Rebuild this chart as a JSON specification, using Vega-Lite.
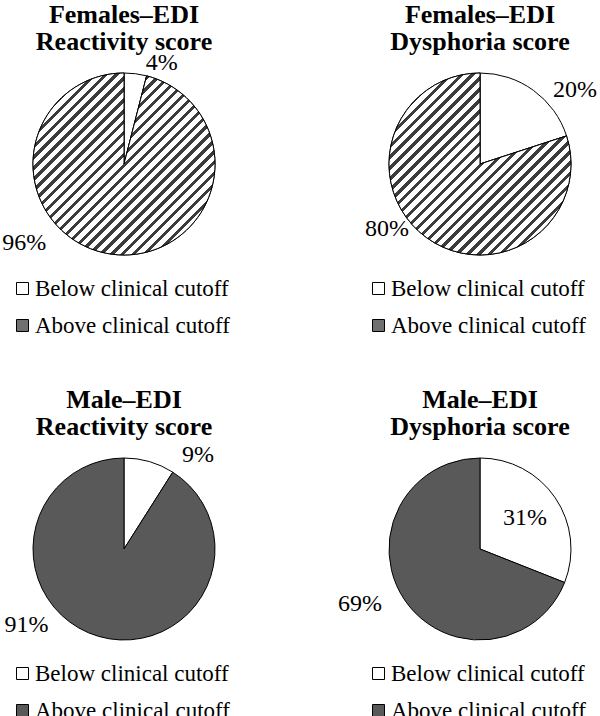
{
  "$schema": "https://vega.github.io/schema/vega-lite/v6.json",
  "background": "white",
  "padding": {"left": 2, "top": 2, "right": 0, "bottom": 0},
  "data": {"values": [
    {"panel": "FR", "category": "Below clinical cutoff", "share": 0.04},
    {"panel": "FR", "category": "Above clinical cutoff", "share": 0.96},
    {"panel": "FD", "category": "Below clinical cutoff", "share": 0.20},
    {"panel": "FD", "category": "Above clinical cutoff", "share": 0.80},
    {"panel": "MR", "category": "Below clinical cutoff", "share": 0.09},
    {"panel": "MR", "category": "Above clinical cutoff", "share": 0.91},
    {"panel": "MD", "category": "Below clinical cutoff", "share": 0.31},
    {"panel": "MD", "category": "Above clinical cutoff", "share": 0.69}
  ]},
  "columns": 2,
  "bounds": "flush",
  "spacing": {"row": 155, "column": 130},
  "concat": [
    {
      "width": 226, "height": 230,
      "title": {"text": ["Females–EDI", "Reactivity score"]},
      "transform": [{"filter": "datum.panel === 'FR'"}, {"stack": "share", "groupby": [], "sort": [{"field": "category", "order": "descending"}], "as": ["a0", "a1"]}],
      "layer": [
        {"mark": {"type": "arc", "outerRadius": 91, "stroke": "black", "strokeWidth": 1},
         "encoding": {
           "theta": {"field": "a0", "type": "quantitative", "scale": {"domain": [0, 1]}}, "theta2": {"field": "a1"},
           "fill": {"field": "category", "type": "nominal", "sort": ["Below clinical cutoff", "Above clinical cutoff"],
           "scale": {"domain": ["Below clinical cutoff", "Above clinical cutoff"], "range": ["#ffffff", "#707070"]},
           "legend": {"encode": {"symbols": {"update": {"fill": {"signal": "datum.value === 'Above clinical cutoff' ? {gradient: 'linear', x1: 0, y1: 0, x2: 1, y2: 1, stops: [{offset: 0, color: '#fff'}, {offset: 0.5, color: '#fff'}, {offset: 0.5, color: '#444'}, {offset: 1, color: '#444'}]} : '#fff'"}, "stroke": {"value": "black"}, "strokeWidth": {"value": 1}}}}}}}},
        {"transform": [{"filter": "datum.category === 'Above clinical cutoff'"}],
         "mark": {"type": "arc", "outerRadius": 91, "stroke": "black", "strokeWidth": 1,
           "fill": {"gradient": "linear", "x1": 0, "y1": 0, "x2": 1, "y2": 1, "stops": [
{"offset":0,"color":"#fff"},{"offset":0.018,"color":"#fff"},{"offset":0.018,"color":"#3c3c3c"},{"offset":0.03,"color":"#3c3c3c"},
{"offset":0.03,"color":"#fff"},{"offset":0.048,"color":"#fff"},{"offset":0.048,"color":"#3c3c3c"},{"offset":0.06,"color":"#3c3c3c"},
{"offset":0.06,"color":"#fff"},{"offset":0.078,"color":"#fff"},{"offset":0.078,"color":"#3c3c3c"},{"offset":0.09,"color":"#3c3c3c"},
{"offset":0.09,"color":"#fff"},{"offset":0.108,"color":"#fff"},{"offset":0.108,"color":"#3c3c3c"},{"offset":0.12,"color":"#3c3c3c"},
{"offset":0.12,"color":"#fff"},{"offset":0.138,"color":"#fff"},{"offset":0.138,"color":"#3c3c3c"},{"offset":0.15,"color":"#3c3c3c"},
{"offset":0.15,"color":"#fff"},{"offset":0.168,"color":"#fff"},{"offset":0.168,"color":"#3c3c3c"},{"offset":0.18,"color":"#3c3c3c"},
{"offset":0.18,"color":"#fff"},{"offset":0.198,"color":"#fff"},{"offset":0.198,"color":"#3c3c3c"},{"offset":0.21,"color":"#3c3c3c"},
{"offset":0.21,"color":"#fff"},{"offset":0.228,"color":"#fff"},{"offset":0.228,"color":"#3c3c3c"},{"offset":0.24,"color":"#3c3c3c"},
{"offset":0.24,"color":"#fff"},{"offset":0.258,"color":"#fff"},{"offset":0.258,"color":"#3c3c3c"},{"offset":0.27,"color":"#3c3c3c"},
{"offset":0.27,"color":"#fff"},{"offset":0.288,"color":"#fff"},{"offset":0.288,"color":"#3c3c3c"},{"offset":0.3,"color":"#3c3c3c"},
{"offset":0.3,"color":"#fff"},{"offset":0.318,"color":"#fff"},{"offset":0.318,"color":"#3c3c3c"},{"offset":0.33,"color":"#3c3c3c"},
{"offset":0.33,"color":"#fff"},{"offset":0.348,"color":"#fff"},{"offset":0.348,"color":"#3c3c3c"},{"offset":0.36,"color":"#3c3c3c"},
{"offset":0.36,"color":"#fff"},{"offset":0.378,"color":"#fff"},{"offset":0.378,"color":"#3c3c3c"},{"offset":0.39,"color":"#3c3c3c"},
{"offset":0.39,"color":"#fff"},{"offset":0.408,"color":"#fff"},{"offset":0.408,"color":"#3c3c3c"},{"offset":0.42,"color":"#3c3c3c"},
{"offset":0.42,"color":"#fff"},{"offset":0.438,"color":"#fff"},{"offset":0.438,"color":"#3c3c3c"},{"offset":0.45,"color":"#3c3c3c"},
{"offset":0.45,"color":"#fff"},{"offset":0.468,"color":"#fff"},{"offset":0.468,"color":"#3c3c3c"},{"offset":0.48,"color":"#3c3c3c"},
{"offset":0.48,"color":"#fff"},{"offset":0.498,"color":"#fff"},{"offset":0.498,"color":"#3c3c3c"},{"offset":0.51,"color":"#3c3c3c"},
{"offset":0.51,"color":"#fff"},{"offset":0.528,"color":"#fff"},{"offset":0.528,"color":"#3c3c3c"},{"offset":0.54,"color":"#3c3c3c"},
{"offset":0.54,"color":"#fff"},{"offset":0.558,"color":"#fff"},{"offset":0.558,"color":"#3c3c3c"},{"offset":0.57,"color":"#3c3c3c"},
{"offset":0.57,"color":"#fff"},{"offset":0.588,"color":"#fff"},{"offset":0.588,"color":"#3c3c3c"},{"offset":0.6,"color":"#3c3c3c"},
{"offset":0.6,"color":"#fff"},{"offset":0.618,"color":"#fff"},{"offset":0.618,"color":"#3c3c3c"},{"offset":0.63,"color":"#3c3c3c"},
{"offset":0.63,"color":"#fff"},{"offset":0.648,"color":"#fff"},{"offset":0.648,"color":"#3c3c3c"},{"offset":0.66,"color":"#3c3c3c"},
{"offset":0.66,"color":"#fff"},{"offset":0.678,"color":"#fff"},{"offset":0.678,"color":"#3c3c3c"},{"offset":0.69,"color":"#3c3c3c"},
{"offset":0.69,"color":"#fff"},{"offset":0.708,"color":"#fff"},{"offset":0.708,"color":"#3c3c3c"},{"offset":0.72,"color":"#3c3c3c"},
{"offset":0.72,"color":"#fff"},{"offset":0.738,"color":"#fff"},{"offset":0.738,"color":"#3c3c3c"},{"offset":0.75,"color":"#3c3c3c"},
{"offset":0.75,"color":"#fff"},{"offset":0.768,"color":"#fff"},{"offset":0.768,"color":"#3c3c3c"},{"offset":0.78,"color":"#3c3c3c"},
{"offset":0.78,"color":"#fff"},{"offset":0.798,"color":"#fff"},{"offset":0.798,"color":"#3c3c3c"},{"offset":0.81,"color":"#3c3c3c"},
{"offset":0.81,"color":"#fff"},{"offset":0.828,"color":"#fff"},{"offset":0.828,"color":"#3c3c3c"},{"offset":0.84,"color":"#3c3c3c"},
{"offset":0.84,"color":"#fff"},{"offset":0.858,"color":"#fff"},{"offset":0.858,"color":"#3c3c3c"},{"offset":0.87,"color":"#3c3c3c"},
{"offset":0.87,"color":"#fff"},{"offset":0.888,"color":"#fff"},{"offset":0.888,"color":"#3c3c3c"},{"offset":0.9,"color":"#3c3c3c"},
{"offset":0.9,"color":"#fff"},{"offset":0.918,"color":"#fff"},{"offset":0.918,"color":"#3c3c3c"},{"offset":0.93,"color":"#3c3c3c"},
{"offset":0.93,"color":"#fff"},{"offset":0.948,"color":"#fff"},{"offset":0.948,"color":"#3c3c3c"},{"offset":0.96,"color":"#3c3c3c"},
{"offset":0.96,"color":"#fff"},{"offset":0.978,"color":"#fff"},{"offset":0.978,"color":"#3c3c3c"},{"offset":0.99,"color":"#3c3c3c"},
{"offset":0.99,"color":"#fff"},{"offset":1,"color":"#fff"}
           ]}},
         "encoding": {"theta": {"field": "a0", "type": "quantitative", "scale": {"domain": [0, 1]}}, "theta2": {"field": "a1"}}},
        {"transform": [{"filter": "datum.category === 'Below clinical cutoff'"}],
         "mark": {"type": "text", "radius": 108, "dx": 10.8, "dy": 3.3},
         "encoding": {"theta": {"field": "a1", "type": "quantitative", "scale": {"domain": [0, 1]}},
           "text": {"field": "share", "type": "quantitative", "format": ".0%"}}},
        {"transform": [{"filter": "datum.category === 'Above clinical cutoff'"}],
         "mark": {"type": "text", "radius": 0, "dx": -99.8, "dy": 78.5},
         "encoding": {"theta": {"field": "a1", "type": "quantitative", "scale": {"domain": [0, 1]}},
           "text": {"field": "share", "type": "quantitative", "format": ".0%"}}}
      ]
    },
    {
      "width": 226, "height": 230,
      "title": {"text": ["Females–EDI", "Dysphoria score"]},
      "transform": [{"filter": "datum.panel === 'FD'"}, {"stack": "share", "groupby": [], "sort": [{"field": "category", "order": "descending"}], "as": ["a0", "a1"]}],
      "layer": [
        {"mark": {"type": "arc", "outerRadius": 91, "stroke": "black", "strokeWidth": 1},
         "encoding": {
           "theta": {"field": "a0", "type": "quantitative", "scale": {"domain": [0, 1]}}, "theta2": {"field": "a1"},
           "fill": {"field": "category", "type": "nominal", "sort": ["Below clinical cutoff", "Above clinical cutoff"],
           "scale": {"domain": ["Below clinical cutoff", "Above clinical cutoff"], "range": ["#ffffff", "#707070"]},
           "legend": {"encode": {"symbols": {"update": {"fill": {"signal": "datum.value === 'Above clinical cutoff' ? {gradient: 'linear', x1: 0, y1: 0, x2: 1, y2: 1, stops: [{offset: 0, color: '#fff'}, {offset: 0.5, color: '#fff'}, {offset: 0.5, color: '#444'}, {offset: 1, color: '#444'}]} : '#fff'"}, "stroke": {"value": "black"}, "strokeWidth": {"value": 1}}}}}}}},
        {"transform": [{"filter": "datum.category === 'Above clinical cutoff'"}],
         "mark": {"type": "arc", "outerRadius": 91, "stroke": "black", "strokeWidth": 1,
           "fill": {"gradient": "linear", "x1": 0, "y1": 0, "x2": 1, "y2": 1, "stops": [
{"offset":0,"color":"#fff"},{"offset":0.018,"color":"#fff"},{"offset":0.018,"color":"#3c3c3c"},{"offset":0.03,"color":"#3c3c3c"},
{"offset":0.03,"color":"#fff"},{"offset":0.048,"color":"#fff"},{"offset":0.048,"color":"#3c3c3c"},{"offset":0.06,"color":"#3c3c3c"},
{"offset":0.06,"color":"#fff"},{"offset":0.078,"color":"#fff"},{"offset":0.078,"color":"#3c3c3c"},{"offset":0.09,"color":"#3c3c3c"},
{"offset":0.09,"color":"#fff"},{"offset":0.108,"color":"#fff"},{"offset":0.108,"color":"#3c3c3c"},{"offset":0.12,"color":"#3c3c3c"},
{"offset":0.12,"color":"#fff"},{"offset":0.138,"color":"#fff"},{"offset":0.138,"color":"#3c3c3c"},{"offset":0.15,"color":"#3c3c3c"},
{"offset":0.15,"color":"#fff"},{"offset":0.168,"color":"#fff"},{"offset":0.168,"color":"#3c3c3c"},{"offset":0.18,"color":"#3c3c3c"},
{"offset":0.18,"color":"#fff"},{"offset":0.198,"color":"#fff"},{"offset":0.198,"color":"#3c3c3c"},{"offset":0.21,"color":"#3c3c3c"},
{"offset":0.21,"color":"#fff"},{"offset":0.228,"color":"#fff"},{"offset":0.228,"color":"#3c3c3c"},{"offset":0.24,"color":"#3c3c3c"},
{"offset":0.24,"color":"#fff"},{"offset":0.258,"color":"#fff"},{"offset":0.258,"color":"#3c3c3c"},{"offset":0.27,"color":"#3c3c3c"},
{"offset":0.27,"color":"#fff"},{"offset":0.288,"color":"#fff"},{"offset":0.288,"color":"#3c3c3c"},{"offset":0.3,"color":"#3c3c3c"},
{"offset":0.3,"color":"#fff"},{"offset":0.318,"color":"#fff"},{"offset":0.318,"color":"#3c3c3c"},{"offset":0.33,"color":"#3c3c3c"},
{"offset":0.33,"color":"#fff"},{"offset":0.348,"color":"#fff"},{"offset":0.348,"color":"#3c3c3c"},{"offset":0.36,"color":"#3c3c3c"},
{"offset":0.36,"color":"#fff"},{"offset":0.378,"color":"#fff"},{"offset":0.378,"color":"#3c3c3c"},{"offset":0.39,"color":"#3c3c3c"},
{"offset":0.39,"color":"#fff"},{"offset":0.408,"color":"#fff"},{"offset":0.408,"color":"#3c3c3c"},{"offset":0.42,"color":"#3c3c3c"},
{"offset":0.42,"color":"#fff"},{"offset":0.438,"color":"#fff"},{"offset":0.438,"color":"#3c3c3c"},{"offset":0.45,"color":"#3c3c3c"},
{"offset":0.45,"color":"#fff"},{"offset":0.468,"color":"#fff"},{"offset":0.468,"color":"#3c3c3c"},{"offset":0.48,"color":"#3c3c3c"},
{"offset":0.48,"color":"#fff"},{"offset":0.498,"color":"#fff"},{"offset":0.498,"color":"#3c3c3c"},{"offset":0.51,"color":"#3c3c3c"},
{"offset":0.51,"color":"#fff"},{"offset":0.528,"color":"#fff"},{"offset":0.528,"color":"#3c3c3c"},{"offset":0.54,"color":"#3c3c3c"},
{"offset":0.54,"color":"#fff"},{"offset":0.558,"color":"#fff"},{"offset":0.558,"color":"#3c3c3c"},{"offset":0.57,"color":"#3c3c3c"},
{"offset":0.57,"color":"#fff"},{"offset":0.588,"color":"#fff"},{"offset":0.588,"color":"#3c3c3c"},{"offset":0.6,"color":"#3c3c3c"},
{"offset":0.6,"color":"#fff"},{"offset":0.618,"color":"#fff"},{"offset":0.618,"color":"#3c3c3c"},{"offset":0.63,"color":"#3c3c3c"},
{"offset":0.63,"color":"#fff"},{"offset":0.648,"color":"#fff"},{"offset":0.648,"color":"#3c3c3c"},{"offset":0.66,"color":"#3c3c3c"},
{"offset":0.66,"color":"#fff"},{"offset":0.678,"color":"#fff"},{"offset":0.678,"color":"#3c3c3c"},{"offset":0.69,"color":"#3c3c3c"},
{"offset":0.69,"color":"#fff"},{"offset":0.708,"color":"#fff"},{"offset":0.708,"color":"#3c3c3c"},{"offset":0.72,"color":"#3c3c3c"},
{"offset":0.72,"color":"#fff"},{"offset":0.738,"color":"#fff"},{"offset":0.738,"color":"#3c3c3c"},{"offset":0.75,"color":"#3c3c3c"},
{"offset":0.75,"color":"#fff"},{"offset":0.768,"color":"#fff"},{"offset":0.768,"color":"#3c3c3c"},{"offset":0.78,"color":"#3c3c3c"},
{"offset":0.78,"color":"#fff"},{"offset":0.798,"color":"#fff"},{"offset":0.798,"color":"#3c3c3c"},{"offset":0.81,"color":"#3c3c3c"},
{"offset":0.81,"color":"#fff"},{"offset":0.828,"color":"#fff"},{"offset":0.828,"color":"#3c3c3c"},{"offset":0.84,"color":"#3c3c3c"},
{"offset":0.84,"color":"#fff"},{"offset":0.858,"color":"#fff"},{"offset":0.858,"color":"#3c3c3c"},{"offset":0.87,"color":"#3c3c3c"},
{"offset":0.87,"color":"#fff"},{"offset":0.888,"color":"#fff"},{"offset":0.888,"color":"#3c3c3c"},{"offset":0.9,"color":"#3c3c3c"},
{"offset":0.9,"color":"#fff"},{"offset":0.918,"color":"#fff"},{"offset":0.918,"color":"#3c3c3c"},{"offset":0.93,"color":"#3c3c3c"},
{"offset":0.93,"color":"#fff"},{"offset":0.948,"color":"#fff"},{"offset":0.948,"color":"#3c3c3c"},{"offset":0.96,"color":"#3c3c3c"},
{"offset":0.96,"color":"#fff"},{"offset":0.978,"color":"#fff"},{"offset":0.978,"color":"#3c3c3c"},{"offset":0.99,"color":"#3c3c3c"},
{"offset":0.99,"color":"#fff"},{"offset":1,"color":"#fff"}
           ]}},
         "encoding": {"theta": {"field": "a0", "type": "quantitative", "scale": {"domain": [0, 1]}}, "theta2": {"field": "a1"}}},
        {"transform": [{"filter": "datum.category === 'Below clinical cutoff'"}],
         "mark": {"type": "text", "radius": 100, "dx": 0, "dy": -43},
         "encoding": {"theta": {"field": "a1", "type": "quantitative", "scale": {"domain": [0, 1]}},
           "text": {"field": "share", "type": "quantitative", "format": ".0%"}}},
        {"transform": [{"filter": "datum.category === 'Above clinical cutoff'"}],
         "mark": {"type": "text", "radius": 0, "dx": -93, "dy": 65},
         "encoding": {"theta": {"field": "a1", "type": "quantitative", "scale": {"domain": [0, 1]}},
           "text": {"field": "share", "type": "quantitative", "format": ".0%"}}}
      ]
    },
    {
      "width": 226, "height": 230,
      "title": {"text": ["Male–EDI", "Reactivity score"]},
      "transform": [{"filter": "datum.panel === 'MR'"}, {"stack": "share", "groupby": [], "sort": [{"field": "category", "order": "descending"}], "as": ["a0", "a1"]}],
      "layer": [
        {"mark": {"type": "arc", "outerRadius": 91, "stroke": "black", "strokeWidth": 1},
         "encoding": {
           "theta": {"field": "a0", "type": "quantitative", "scale": {"domain": [0, 1]}}, "theta2": {"field": "a1"},
           "fill": {"field": "category", "type": "nominal", "sort": ["Below clinical cutoff", "Above clinical cutoff"],
           "scale": {"domain": ["Below clinical cutoff", "Above clinical cutoff"], "range": ["#ffffff", "#595959"]},
           "legend": {"encode": {"symbols": {"update": {"stroke": {"value": "black"}, "strokeWidth": {"value": 1}}}}}}}},
        {"transform": [{"filter": "datum.category === 'Below clinical cutoff'"}],
         "mark": {"type": "text", "radius": 119, "dx": 10.2, "dy": 6.5},
         "encoding": {"theta": {"field": "a1", "type": "quantitative", "scale": {"domain": [0, 1]}},
           "text": {"field": "share", "type": "quantitative", "format": ".0%"}}},
        {"transform": [{"filter": "datum.category === 'Above clinical cutoff'"}],
         "mark": {"type": "text", "radius": 0, "dx": -97.5, "dy": 76},
         "encoding": {"theta": {"field": "a1", "type": "quantitative", "scale": {"domain": [0, 1]}},
           "text": {"field": "share", "type": "quantitative", "format": ".0%"}}}
      ]
    },
    {
      "width": 226, "height": 230,
      "title": {"text": ["Male–EDI", "Dysphoria score"]},
      "transform": [{"filter": "datum.panel === 'MD'"}, {"stack": "share", "groupby": [], "sort": [{"field": "category", "order": "descending"}], "as": ["a0", "a1"]}],
      "layer": [
        {"mark": {"type": "arc", "outerRadius": 91, "stroke": "black", "strokeWidth": 1},
         "encoding": {
           "theta": {"field": "a0", "type": "quantitative", "scale": {"domain": [0, 1]}}, "theta2": {"field": "a1"},
           "fill": {"field": "category", "type": "nominal", "sort": ["Below clinical cutoff", "Above clinical cutoff"],
           "scale": {"domain": ["Below clinical cutoff", "Above clinical cutoff"], "range": ["#ffffff", "#595959"]},
           "legend": {"encode": {"symbols": {"update": {"stroke": {"value": "black"}, "strokeWidth": {"value": 1}}}}}}}},
        {"transform": [{"filter": "datum.category === 'Below clinical cutoff'"}],
         "mark": {"type": "text", "radius": 48, "dx": 0.4, "dy": -48.2},
         "encoding": {"theta": {"field": "a1", "type": "quantitative", "scale": {"domain": [0, 1]}},
           "text": {"field": "share", "type": "quantitative", "format": ".0%"}}},
        {"transform": [{"filter": "datum.category === 'Above clinical cutoff'"}],
         "mark": {"type": "text", "radius": 0, "dx": -120, "dy": 54.5},
         "encoding": {"theta": {"field": "a1", "type": "quantitative", "scale": {"domain": [0, 1]}},
           "text": {"field": "share", "type": "quantitative", "format": ".0%"}}}
      ]
    }
  ],
  "resolve": {"scale": {"fill": "independent", "theta": "independent"}, "legend": {"fill": "independent"}},
  "config": {
    "view": {"stroke": null},
    "font": "Liberation Serif",
    "title": {"font": "Liberation Serif", "fontSize": 26, "fontWeight": "bold", "lineHeight": 27, "color": "black", "anchor": "middle", "frame": "group", "offset": -6},
    "text": {"font": "Liberation Serif", "fontSize": 24, "fill": "black", "align": "center", "baseline": "middle"},
    "legend": {"orient": "bottom", "direction": "vertical", "title": null, "symbolType": "square", "symbolSize": 144,
      "symbolStrokeColor": "black", "symbolStrokeWidth": 1, "labelFont": "Liberation Serif", "labelFontSize": 23,
      "labelColor": "black", "labelOffset": 1, "rowPadding": 13, "offset": -2, "padding": 0, "labelLimit": 400}
  }
}
